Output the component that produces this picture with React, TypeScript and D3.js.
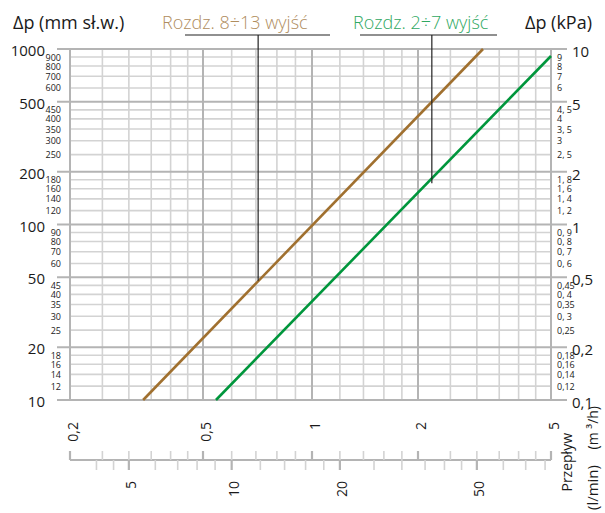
import React, { useEffect, useRef } from 'react';
import * as d3 from 'd3';

// pressure drop axis (mm sł.w.), right side shows the same levels in kPa
const DP_MAJOR = [10, 20, 50, 100, 200, 500, 1000];
const DP_MINOR = [12, 14, 16, 18, 25, 30, 35, 40, 45, 60, 70, 80, 90, 120, 140, 160, 180, 250, 300, 350, 400, 450, 600, 700, 800, 900];
const KPA_MAJOR_LABELS = ['0,1', '0,2', '0,5', '1', '2', '5', '10'];
const KPA_MINOR_LABELS = ['0,12', '0,14', '0,16', '0,18', '0,25', '0, 3', '0,35', '0, 4', '0,45', '0, 6', '0, 7', '0, 8', '0, 9',
  '1, 2', '1, 4', '1, 6', '1, 8', '2, 5', '3', '3, 5', '4', '4, 5', '6', '7', '8', '9'];

// flow axis (m3/h) and the l/min scale under it
const Q_MAJOR = [0.2, 0.5, 1, 2, 5];
const Q_MAJOR_LABELS = ['0,2', '0,5', '1', '2', '5'];
const Q_MINOR = [0.25, 0.3, 0.35, 0.4, 0.45, 0.6, 0.7, 0.8, 0.9, 1.2, 1.4, 1.6, 1.8, 2.5, 3, 3.5, 4, 4.5];
const LPM_MAJOR = [5, 10, 20, 50];
const LPM_MINOR = [4, 4.5, 6, 7, 8, 9, 12, 14, 16, 18, 25, 30, 35, 40, 45, 60, 70, 80];

// manifold curves (flow m3/h, dp mm)
const BROWN_FLOW = [0.331, 3.13];
const BROWN_DP = [10, 1000];
const GREEN_FLOW = [0.543, 5];
const GREEN_DP = [10, 912];

const SERIES = [
  { name: 'Rozdz. 8÷13 wyjść', flow: BROWN_FLOW, dp: BROWN_DP, color: '#a0702f', text: '#b08d5e', leaderFlow: 0.71 },
  { name: 'Rozdz. 2÷7 wyjść', flow: GREEN_FLOW, dp: GREEN_DP, color: '#00963c', text: '#2fa862', leaderFlow: 2.2 },
];

const FONT = "'Open Sans', 'Noto Sans', sans-serif";

function Chart() {
  const ref = useRef<SVGSVGElement>(null);

  useEffect(() => {
    const svg = d3.select(ref.current);
    svg.selectAll('*').remove();
    const L = 70, R = 551, T = 49, B = 400;

    const x = d3.scaleLog().domain(Q_MAJOR).range([70, 203, 312, 418, 551]);
    const y = d3.scaleLog().domain([10, 1000]).range([B, T]);
    const lpm = (v: number) => x(v * 0.06);

    const MINOR = '#d3d3d3', MAJOR = '#b4b4b4';

    // grid
    const g = svg.append('g');
    DP_MINOR.forEach(v => {
      g.append('line').attr('x1', L).attr('x2', R).attr('y1', y(v)).attr('y2', y(v))
        .attr('stroke', MINOR).attr('stroke-width', 1.6);
    });
    Q_MINOR.forEach(v => {
      g.append('line').attr('x1', x(v)).attr('x2', x(v)).attr('y1', T).attr('y2', B)
        .attr('stroke', MINOR).attr('stroke-width', 1.6);
    });
    DP_MAJOR.forEach(v => {
      g.append('line').attr('x1', 57).attr('x2', 567).attr('y1', y(v)).attr('y2', y(v))
        .attr('stroke', MAJOR).attr('stroke-width', 2);
    });
    Q_MAJOR.forEach(v => {
      g.append('line').attr('x1', x(v)).attr('x2', x(v)).attr('y1', T).attr('y2', B)
        .attr('stroke', MAJOR).attr('stroke-width', 2);
    });

    // left labels
    DP_MAJOR.forEach(v => {
      svg.append('text').attr('x', 45).attr('y', y(v) + 1).text(v)
        .attr('text-anchor', 'end').attr('dominant-baseline', 'central')
        .attr('font-size', 15).attr('fill', '#1a1a1a').attr('font-family', FONT);
    });
    DP_MINOR.forEach(v => {
      svg.append('text').attr('x', 61).attr('y', y(v)).text(v)
        .attr('text-anchor', 'end').attr('dominant-baseline', 'central')
        .attr('font-size', 9).attr('fill', '#1a1a1a').attr('font-family', FONT);
    });

    // right labels (kPa)
    DP_MAJOR.forEach((v, i) => {
      svg.append('text').attr('x', 572).attr('y', y(v) + 2).text(KPA_MAJOR_LABELS[i])
        .attr('dominant-baseline', 'central')
        .attr('font-size', 15).attr('fill', '#1a1a1a').attr('font-family', FONT);
    });
    DP_MINOR.forEach((v, i) => {
      svg.append('text').attr('x', 557).attr('y', y(v)).text(KPA_MINOR_LABELS[i])
        .attr('dominant-baseline', 'central')
        .attr('font-size', 9).attr('fill', '#1a1a1a').attr('font-family', FONT);
    });

    // flow labels m3/h
    Q_MAJOR.forEach((v, i) => {
      svg.append('text').attr('transform', `translate(${x(v) + 2},422) rotate(-90)`).text(Q_MAJOR_LABELS[i])
        .attr('text-anchor', 'end').attr('dominant-baseline', 'central')
        .attr('font-size', 14).attr('fill', '#1a1a1a').attr('font-family', FONT);
    });

    // l/min scale
    const AX = 460;
    svg.append('line').attr('x1', L).attr('x2', R).attr('y1', AX).attr('y2', AX)
      .attr('stroke', MAJOR).attr('stroke-width', 2);
    [...Q_MAJOR, ...Q_MINOR].forEach(v => {
      const major = Q_MAJOR.includes(v);
      svg.append('line').attr('x1', x(v)).attr('x2', x(v)).attr('y1', AX - 9).attr('y2', AX)
        .attr('stroke', major ? MAJOR : MINOR).attr('stroke-width', major ? 2.2 : 1.6);
    });
    [...LPM_MAJOR, ...LPM_MINOR].forEach(v => {
      const major = LPM_MAJOR.includes(v);
      svg.append('line').attr('x1', lpm(v)).attr('x2', lpm(v)).attr('y1', AX).attr('y2', AX + 10)
        .attr('stroke', major ? MAJOR : MINOR).attr('stroke-width', major ? 2.2 : 1.6);
    });
    LPM_MAJOR.forEach(v => {
      svg.append('text').attr('transform', `translate(${lpm(v) + 2},481) rotate(-90)`).text(v)
        .attr('text-anchor', 'end').attr('dominant-baseline', 'central')
        .attr('font-size', 14).attr('fill', '#1a1a1a').attr('font-family', FONT);
    });

    // axis titles
    svg.append('text').attr('x', 13).attr('y', 29).text('Δp (mm sł.w.)')
      .attr('font-size', 18).attr('fill', '#1a1a1a').attr('font-family', FONT);
    svg.append('text').attr('x', 592).attr('y', 29).text('Δp (kPa)').attr('text-anchor', 'end')
      .attr('font-size', 18).attr('fill', '#1a1a1a').attr('font-family', FONT);
    svg.append('text').attr('transform', 'translate(566,433) rotate(-90)').text('Przepływ')
      .attr('text-anchor', 'end').attr('dominant-baseline', 'central')
      .attr('font-size', 14).attr('fill', '#1a1a1a').attr('font-family', FONT);
    svg.append('text').attr('transform', 'translate(592,406) rotate(-90)').text('(m ³/h)')
      .attr('text-anchor', 'end').attr('dominant-baseline', 'central')
      .attr('font-size', 14).attr('fill', '#1a1a1a').attr('font-family', FONT);
    svg.append('text').attr('transform', 'translate(592,465) rotate(-90)').text('(l/min)')
      .attr('text-anchor', 'end').attr('dominant-baseline', 'central')
      .attr('font-size', 15).attr('fill', '#1a1a1a').attr('font-family', FONT);

    // curves
    const line = d3.line<[number, number]>().x(d => x(d[0])).y(d => y(d[1]));
    SERIES.forEach(s => {
      const pts = s.flow.map((f, i) => [f, s.dp[i]] as [number, number]);
      svg.append('path').datum(pts).attr('d', line).attr('fill', 'none')
        .attr('stroke', s.color).attr('stroke-width', 2.6);
    });

    // legend with leader lines
    const legendX = [162, 353];
    const underline = [[185, 330], [360, 497]];
    SERIES.forEach((s, i) => {
      svg.append('text').attr('x', legendX[i]).attr('y', 29).text(s.name)
        .attr('font-size', 18).attr('fill', s.text).attr('font-family', FONT).attr('font-weight', 300);
      svg.append('line').attr('x1', underline[i][0]).attr('x2', underline[i][1]).attr('y1', 35).attr('y2', 35)
        .attr('stroke', '#222').attr('stroke-width', 1.2);
      // dp on the curve at the leader flow (straight in log-log)
      const t = Math.log(s.leaderFlow / s.flow[0]) / Math.log(s.flow[1] / s.flow[0]);
      const dpAt = Math.exp(Math.log(s.dp[0]) + t * Math.log(s.dp[1] / s.dp[0]));
      svg.append('line').attr('x1', x(s.leaderFlow)).attr('x2', x(s.leaderFlow)).attr('y1', 35).attr('y2', y(dpAt))
        .attr('stroke', '#222').attr('stroke-width', 1.2);
    });
  }, []);

  return <svg ref={ref} width={605} height={513} viewBox="0 0 605 513"
    style={{ position: 'absolute', left: 0, top: 0, background: '#fff' }} />;
}

export default function App() {
  return <Chart />;
}
